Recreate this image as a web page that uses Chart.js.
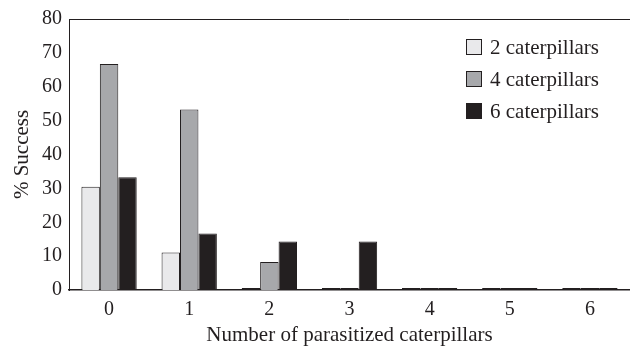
<!DOCTYPE html>
<html>
<head>
  <title>Parasitized caterpillars</title>
  <script src="https://cdn.jsdelivr.net/npm/chart.js@4/dist/chart.umd.min.js"></script>
  <style>
    body { margin: 0; background: #fff; }
  </style>
</head>
<body>
  <div style="position: relative; width:630px; height:346px;">
    <canvas id="bars" width="630" height="346"></canvas>
  </div>
  <script>
    var categories = ["0", "1", "2", "3", "4", "5", "6"];
    var seriesNames = ["2 caterpillars", "4 caterpillars", "6 caterpillars"];
    var twoCats = [30.5, 11.1, 0, 0, 0, 0, 0];
    var fourCats = [66.7, 53.3, 8.3, 0, 0, 0, 0];
    var sixCats = [33.3, 16.7, 14.3, 14.3, 0, 0, 0];
    var yTicks = [0, 10, 20, 30, 40, 50, 60, 70, 80];
    var colors = ["#e9e9eb", "#a7a8ab", "#231f20"];

    var serif = "'Liberation Serif', 'Times New Roman', serif";
    var ink = "#231f20";

    // top frame line plus the legend in the top right corner
    var extras = {
      id: "extras",
      afterDraw: function(chart) {
        var ctx = chart.ctx;
        var area = chart.chartArea;
        ctx.save();
        ctx.strokeStyle = ink;
        ctx.lineWidth = 1;
        ctx.beginPath();
        ctx.moveTo(area.left, area.top + 0.5);
        ctx.lineTo(area.right, area.top + 0.5);
        ctx.stroke();

        var bx = area.right - 164, by = area.top + 20;
        ctx.font = "21px " + serif;
        ctx.textBaseline = "middle";
        ctx.textAlign = "left";
        chart.data.datasets.forEach(function(ds, i) {
          var y = by + i * 32;
          ctx.fillStyle = colors[i];
          ctx.fillRect(bx, y, 16, 16);
          ctx.strokeStyle = ink;
          ctx.strokeRect(bx + 0.5, y + 0.5, 15, 15);
          ctx.fillStyle = ink;
          ctx.fillText(ds.label, bx + 24, y + 9);
        });
        ctx.restore();
      }
    };

    var sets = [twoCats, fourCats, sixCats].map(function(vals, i) {
      return {
        label: seriesNames[i],
        data: vals,
        // empty groups show up as a dark line on the axis
        backgroundColor: function(c) { return c.raw === 0 ? ink : colors[i]; },
        borderColor: ink,
        borderWidth: 1,
        borderSkipped: "bottom",
        minBarLength: 2,
        categoryPercentage: 0.69,
        barPercentage: 1
      };
    });

    new Chart(document.getElementById("bars"), {
      type: "bar",
      data: { labels: categories, datasets: sets },
      options: {
        responsive: false,
        animation: false,
        layout: { padding: { top: 15, right: 0, left: 0, bottom: 0 } },
        plugins: { legend: { display: false }, tooltip: { enabled: false } },
        scales: {
          x: {
            grid: { display: false, drawTicks: false },
            border: { color: ink, width: 1.5 },
            ticks: { color: ink, font: { family: serif, size: 20 }, padding: 8 },
            title: { display: true, text: "Number of parasitized caterpillars", color: ink,
                     font: { family: serif, size: 21 }, padding: { top: 4, bottom: -2 } },
            afterFit: function(s) { s.height = 56; }
          },
          y: {
            min: 0, max: 80,
            afterBuildTicks: function(s) { s.ticks = yTicks.map(function(v) { return { value: v }; }); },
            grid: { display: false, drawTicks: false },
            border: { color: ink, width: 1 },
            ticks: { color: ink, font: { family: serif, size: 20 }, padding: 7 },
            title: { display: true, text: "% Success", color: ink,
                     font: { family: serif, size: 21 }, padding: { top: 10, bottom: 0 } },
            afterFit: function(s) { s.width = 69; }
          }
        }
      },
      plugins: [extras]
    });
  </script>
</body>
</html>
